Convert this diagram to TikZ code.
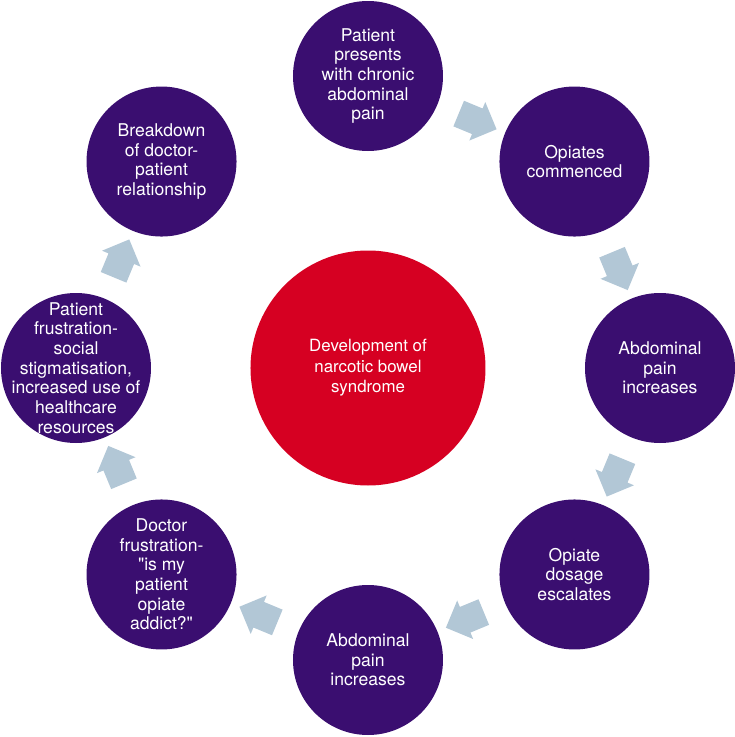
\documentclass[tikz,border=0pt]{standalone}
\usepackage{fontspec}
\setmainfont{TeX Gyre Heros}[Ligatures=TeXOff]
\usetikzlibrary{shapes.arrows,calc}
\definecolor{stagepurple}{RGB}{58,14,112}
\definecolor{corered}{RGB}{214,0,34}
\definecolor{flowgrey}{RGB}{178,199,214}
\tikzset{
  stage/.style = {circle, fill=stagepurple, minimum size=3cm, inner sep=-1cm,
    text=white, align=center, font=\fontsize{10}{11.2}\selectfont},
  core/.style = {circle, fill=corered, minimum size=4.7cm, inner sep=0pt,
    text=white, align=center, font=\fontsize{9.6}{11.6}\selectfont},
  flow/.style = {single arrow, fill=flowgrey, minimum width=0.82cm, minimum height=0.82cm,
    single arrow head extend=0.14cm, inner xsep=0pt, inner ysep=0.27cm}
}

\begin{document}
\begin{tikzpicture}

\useasboundingbox (-7.36,-7.38) rectangle (7.34,7.36);

\node[core] (nbs) at (0,0) {Development of\\ narcotic bowel\\ syndrome};

\node[stage] (s1) at (90:5.84)   {Patient\\ presents\\ with chronic\\ abdominal\\ pain};
\node[stage] (s2) at (45:5.84)   {Opiates\\ commenced};
\node[stage] (s3) at (0:5.84)    {Abdominal\\ pain\\ increases};
\node[stage] (s4) at (-45:5.84)  {Opiate\\ dosage\\ escalates};
\node[stage] (s5) at (-90:5.84)  {Abdominal\\ pain\\ increases};
\node[stage] (s6) at (-135:5.84) {Doctor\\ frustration-\\ "is my\\ patient\\ opiate\\ addict?"};
\node[stage] (s7) at (180:5.84)  {Patient\\ frustration-\\ social\\ stigmatisation,\\ increased use of\\ healthcare\\ resources};
\node[stage] (s8) at (135:5.84)  {Breakdown\\ of doctor-\\ patient\\ relationship};

% block arrows between the stages
\node[flow, rotate=-22.5]  (f12) at ($(s1)!0.5!(s2)$) {};
\node[flow, rotate=-67.5]  (f23) at ($(s2)!0.5!(s3)$) {};
\node[flow, rotate=-112.5] (f34) at ($(s3)!0.5!(s4)$) {};
\node[flow, rotate=-157.5] (f45) at ($(s4)!0.5!(s5)$) {};
\node[flow, rotate=157.5]  (f56) at ($(s5)!0.5!(s6)$) {};
\node[flow, rotate=112.5]  (f67) at ($(s6)!0.5!(s7)$) {};
\node[flow, rotate=67.5]   (f78) at ($(s7)!0.5!(s8)$) {};

\end{tikzpicture}
\end{document}
